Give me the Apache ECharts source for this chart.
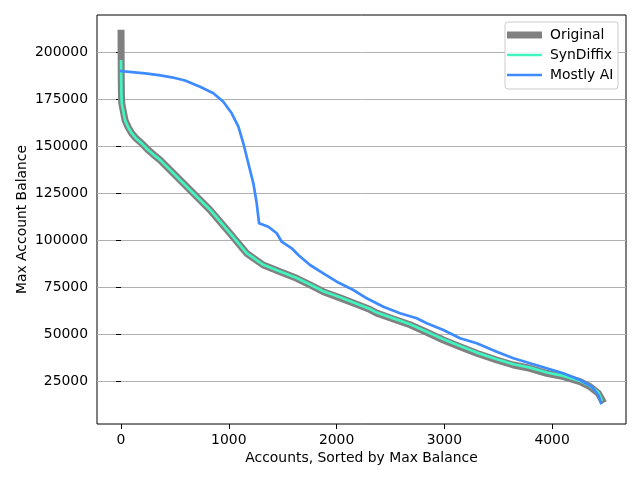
<!DOCTYPE html>
<html>
<head>
<meta charset="utf-8">
<script src="https://cdn.jsdelivr.net/npm/echarts@6/dist/echarts.min.js"></script>
<style>
html,body{margin:0;padding:0;background:#fff;}
#chart{width:640px;height:480px;}
</style>
</head>
<body>
<div id="chart"></div>
<script>
// ---- data ----
var seriesNames = ['Original', 'SynDiffix', 'Mostly AI'];

var originalX = [0, 2, 4, 7, 19, 37, 65, 99, 140, 192, 250, 300, 362, 455, 548, 671, 826, 1011, 1166, 1320, 1476, 1630, 1754, 1877, 2032, 2187, 2311, 2373, 2527, 2682, 2837, 2991, 3146, 3301, 3486, 3641, 3795, 3950, 4105, 4260, 4352, 4429, 4463];
var originalY = [210000, 186000, 177000, 172700, 169100, 163800, 160100, 156800, 154000, 151400, 148000, 145500, 142550, 137240, 131900, 124850, 116000, 103570, 92930, 86700, 83140, 79630, 76070, 72500, 69200, 65800, 63000, 61100, 58000, 54900, 50900, 46810, 43250, 39740, 36180, 33520, 31760, 29100, 27290, 24630, 21970, 18460, 15000];

var synX = [0, 2, 4, 7, 19, 37, 65, 99, 140, 192, 250, 300, 362, 455, 548, 671, 826, 1011, 1166, 1320, 1476, 1630, 1754, 1877, 2032, 2187, 2311, 2373, 2527, 2682, 2837, 2991, 3146, 3301, 3486, 3641, 3795, 3950, 4105, 4260, 4352, 4429, 4458];
var synY = [195000, 184000, 176500, 172500, 169000, 163700, 160100, 156800, 154000, 151400, 148000, 145500, 142600, 137300, 131900, 124900, 116100, 103700, 93000, 86800, 83200, 79800, 76300, 72700, 69500, 66100, 63300, 61400, 58300, 55200, 51200, 47200, 43600, 40100, 36600, 33900, 32100, 29500, 27700, 25000, 22400, 18800, 15000];

var mostlyX = [0, 223, 350, 470, 594, 733, 857, 949, 1027, 1089, 1135, 1181, 1228, 1259, 1281, 1367, 1445, 1491, 1584, 1645, 1754, 1877, 2002, 2156, 2280, 2434, 2589, 2744, 2837, 2991, 3146, 3301, 3486, 3641, 3795, 3950, 4105, 4260, 4368, 4429, 4454];
var mostlyY = [189900, 188670, 187700, 186540, 184840, 181540, 178030, 173560, 167400, 160270, 151440, 140800, 130160, 119530, 108900, 107080, 103570, 99100, 95590, 92030, 86710, 82290, 77830, 73410, 68990, 64530, 61020, 58350, 55690, 52130, 47720, 45060, 40600, 37070, 34410, 31760, 29100, 25540, 21970, 17560, 13300];

var xTicks = [0, 1000, 2000, 3000, 4000];
var yTicks = [25000, 50000, 75000, 100000, 125000, 150000, 175000, 200000];

// ---- chart ----
function pairs(xs, ys) { return xs.map(function (x, i) { return [x, ys[i]]; }); }

var FONT = 'DejaVu Sans';
var FS = 13.9;
var colors = ['#808080', '#40f5c0', '#3d8bff'];
var widths = [7, 2.7, 2.7];

var chart = echarts.init(document.getElementById('chart'), null, { renderer: 'canvas' });

function legendFor(i, top, h) {
  return {
    data: [{ name: seriesNames[i], icon: 'rect' }],
    left: 507, top: top,
    padding: 0,
    itemWidth: 35, itemHeight: h,
    z: 20,
    selectedMode: false,
    textStyle: { fontFamily: FONT, fontSize: FS, color: '#000', lineHeight: 16, padding: [0, 0, 0, 3] }
  };
}

var plain = function (v) { return String(v); };

var option = {
  backgroundColor: '#fff',
  animation: false,
  grid: { left: 97, top: 15, right: 14, bottom: 56, show: true, borderColor: '#000', borderWidth: 1, backgroundColor: 'transparent' },
  graphic: [{
    type: 'rect', z: 15,
    shape: { x: 505, y: 22, width: 113, height: 67, r: 3 },
    style: { fill: 'rgba(255,255,255,0.85)', stroke: '#cccccc', lineWidth: 1 }
  }],
  legend: [
    legendFor(0, 27, 7),
    legendFor(1, 47, 2.7),
    legendFor(2, 67, 2.7)
  ],
  xAxis: {
    type: 'value', min: -223, max: 4686,
    name: 'Accounts, Sorted by Max Balance', nameLocation: 'middle', nameGap: 27, nameMoveOverlap: false,
    nameTextStyle: { fontFamily: FONT, fontSize: FS, color: '#000' },
    axisLine: { show: false },
    axisTick: { show: true, length: 5, lineStyle: { color: '#000', width: 1 }, customValues: xTicks },
    axisLabel: { fontFamily: FONT, fontSize: FS, color: '#000', margin: 9, customValues: xTicks, formatter: plain },
    splitLine: { show: false }
  },
  yAxis: {
    type: 'value', min: 2128, max: 219681,
    name: 'Max Account Balance', nameLocation: 'middle', nameGap: 68, nameRotate: 90, nameMoveOverlap: false,
    nameTextStyle: { fontFamily: FONT, fontSize: FS, color: '#000' },
    axisLine: { show: false },
    axisTick: { show: true, length: 5, lineStyle: { color: '#000', width: 1 }, customValues: yTicks },
    axisLabel: { fontFamily: FONT, fontSize: FS, color: '#000', margin: 9, customValues: yTicks, formatter: plain },
    splitLine: { show: true, lineStyle: { color: '#b0b0b0', width: 1 } }
  },
  series: [
    { name: seriesNames[0], type: 'line', data: pairs(originalX, originalY), showSymbol: false, symbol: 'none',
      color: colors[0], lineStyle: { color: colors[0], width: widths[0], cap: 'square', join: 'round' }, z: 2 },
    { name: seriesNames[1], type: 'line', data: pairs(synX, synY), showSymbol: false, symbol: 'none',
      color: colors[1], lineStyle: { color: colors[1], width: widths[1], cap: 'square', join: 'round' }, z: 3 },
    { name: seriesNames[2], type: 'line', data: pairs(mostlyX, mostlyY), showSymbol: false, symbol: 'none',
      color: colors[2], lineStyle: { color: colors[2], width: widths[2], cap: 'square', join: 'round' }, z: 4 }
  ]
};
chart.setOption(option);
</script>
</body>
</html>
